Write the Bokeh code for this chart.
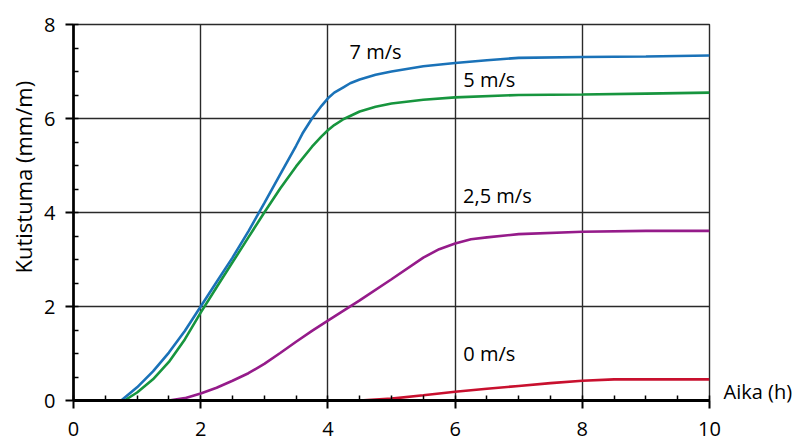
import math
from bokeh.plotting import figure
from bokeh.models import SingleIntervalTicker, FixedTicker, Label, LinearAxis, Title
from bokeh.embed import file_html
from bokeh.resources import INLINE

# ---- data ----
x_7 = [0, 0.75, 1.0, 1.25, 1.5, 1.75, 2.0, 2.25, 2.5, 2.75, 3.0, 3.25, 3.5, 3.6,
       3.75, 3.9, 4.0, 4.1, 4.25, 4.35, 4.5, 4.75, 5.0, 5.5, 6.0, 6.5, 7.0, 8.0, 9.0, 10.0]
y_7 = [0, 0, 0.28, 0.62, 1.02, 1.48, 2.0, 2.52, 3.04, 3.6, 4.2, 4.81, 5.42, 5.68,
       6.0, 6.27, 6.43, 6.55, 6.67, 6.75, 6.83, 6.93, 7.0, 7.11, 7.18, 7.24, 7.29, 7.31, 7.32, 7.34]

x_5 = [0, 0.8, 1.0, 1.25, 1.5, 1.75, 2.0, 2.25, 2.5, 2.75, 3.0, 3.25, 3.5, 3.75,
       3.9, 4.0, 4.1, 4.25, 4.5, 4.75, 5.0, 5.5, 6.0, 7.0, 8.0, 9.0, 10.0]
y_5 = [0, 0, 0.17, 0.45, 0.82, 1.3, 1.87, 2.41, 2.94, 3.47, 4.0, 4.51, 4.98, 5.4,
       5.62, 5.75, 5.86, 5.99, 6.15, 6.25, 6.32, 6.40, 6.45, 6.5, 6.51, 6.53, 6.55]

x_25 = [0, 1.5, 1.75, 2.0, 2.25, 2.5, 2.75, 3.0, 3.25, 3.5, 3.75, 4.0, 4.5, 5.0,
        5.5, 5.75, 6.0, 6.25, 6.5, 7.0, 8.0, 9.0, 10.0]
y_25 = [0, 0, 0.05, 0.15, 0.27, 0.42, 0.58, 0.78, 1.01, 1.25, 1.48, 1.70, 2.13, 2.58,
        3.04, 3.22, 3.34, 3.43, 3.47, 3.54, 3.59, 3.61, 3.61]

x_0 = [0, 4.5, 5.0, 5.5, 6.0, 6.5, 7.0, 7.5, 8.0, 8.5, 9.0, 10.0]
y_0 = [0, 0, 0.04, 0.11, 0.185, 0.25, 0.31, 0.37, 0.42, 0.45, 0.45, 0.45]

series_labels = ["7 m/s", "5 m/s", "2,5 m/s", "0 m/s"]
label_x = [4.34, 6.13, 6.125, 6.13]
label_y = [7.43, 6.84, 4.37, 0.99]

x_title = "Aika (h)"
x_title_at = 0.2
y_title = "Kutistuma (mm/m)"

FONT = "Open Sans"
GRID = "#2a2a2a"

p = figure(width=795, height=446, x_range=(0, 10), y_range=(0, 8),
           output_backend="svg", toolbar_location=None,
           min_border_left=73, min_border_right=86,
           min_border_top=24, min_border_bottom=46)

p.background_fill_color = "white"
p.border_fill_color = "white"
p.outline_line_color = GRID
p.outline_line_width = 1.4

xt = SingleIntervalTicker(interval=2, num_minor_ticks=4)
yt = SingleIntervalTicker(interval=2, num_minor_ticks=4)
p.xaxis.ticker = xt
p.yaxis.ticker = yt
p.xgrid.ticker = xt
p.ygrid.ticker = yt

for g in (p.xgrid, p.ygrid):
    g.grid_line_color = GRID
    g.grid_line_width = 1.4
    g.grid_line_alpha = 1.0

for ax in (p.xaxis, p.yaxis):
    ax.axis_line_color = "black"
    ax.major_tick_line_color = "black"
    ax.minor_tick_line_color = "black"
    ax.major_tick_line_width = 2
    ax.minor_tick_line_width = 1.5
    ax.major_tick_in = 0
    ax.major_tick_out = 8
    ax.minor_tick_in = 5
    ax.minor_tick_out = 0
    ax.major_label_text_font = FONT
    ax.major_label_text_font_size = "20px"
    ax.major_label_text_color = "black"

p.xaxis.axis_line_width = 3
p.yaxis.axis_line_width = 2.7
p.xaxis.major_label_standoff = 13
p.yaxis.major_label_standoff = 10

colors = ["#1a72b8", "#17953e", "#951b8a", "#c8102e"]
xs = [x_0, x_25, x_5, x_7]
ys = [y_0, y_25, y_5, y_7]
cols = [colors[3], colors[2], colors[1], colors[0]]
for xv, yv, c in zip(xs, ys, cols):
    p.line(xv, yv, line_color=c, line_width=2.6)

for t, lx, ly in zip(series_labels, label_x, label_y):
    p.add_layout(Label(x=lx, y=ly, text=t, text_font=FONT, text_font_size="20px",
                       text_align="left", text_baseline="middle", text_color="black"))

# x-axis title at the right end of the x axis (as a right-side axis label)
rax = LinearAxis(ticker=FixedTicker(ticks=[x_title_at]),
                 major_label_overrides={x_title_at: x_title})
rax.axis_line_color = None
rax.major_tick_line_color = None
rax.minor_tick_line_color = None
rax.major_tick_out = 0
rax.major_tick_in = 0
rax.major_label_standoff = 14
rax.major_label_text_font = FONT
rax.major_label_text_font_size = "20px"
rax.major_label_text_color = "black"
p.add_layout(rax, "right")

# y-axis title, shifted upward like the reference
p.add_layout(Title(text=y_title, align="left", offset=127, text_font=FONT,
                   text_font_size="22px", text_font_style="normal",
                   text_color="black", standoff=8), "left")

open("out.html", "w").write(file_html(p, INLINE))
